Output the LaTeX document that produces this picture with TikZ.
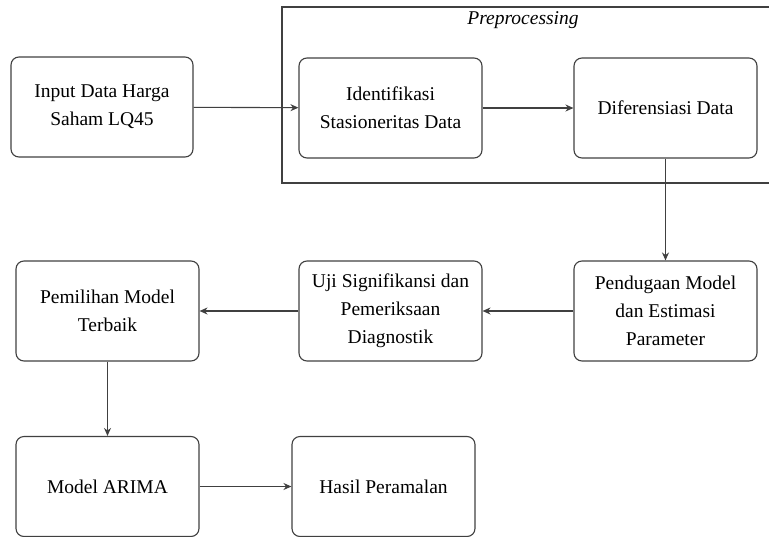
\documentclass[tikz,border=0pt]{standalone}
\usepackage{fontspec}
\setmainfont{Liberation Serif}
\usetikzlibrary{arrows.meta}

\begin{document}
\begin{tikzpicture}[x=1pt,y=-1pt,
  kotak/.style={draw=black!75,line width=1.1pt,rounded corners=8pt,
    minimum width=183pt,minimum height=100pt,align=center,
    font=\fontsize{19.5}{28}\selectfont},
  panah/.style={draw=black!75,line width=1.1pt,-{Stealth[length=8pt,width=7pt]}}]
  \useasboundingbox (0,0) rectangle (769,536);

  \draw [black!75,line width=1.1pt] (772,7) -- (282,7) -- (282,183) -- (772,183);
  \node (pre) at (523,20) {\fontsize{19.5}{24}\selectfont\itshape Preprocessing};

  \node [kotak,minimum width=182pt] (inp) at (102,107) {Input Data Harga\\Saham LQ45};
  \node [kotak] (iden) at (390.5,108) {Identifikasi\\Stasioneritas Data};
  \node [kotak] (dif) at (665.5,108) {Diferensiasi Data};

  \node [kotak] (pend) at (665.5,311) {Pendugaan Model\\dan Estimasi\\Parameter};
  \node [kotak] (uji) at (390.5,311) {Uji Signifikansi dan\\Pemeriksaan\\Diagnostik};
  \node [kotak] (pem) at (107.5,311) {Pemilihan Model\\Terbaik};

  \node [kotak] (arima) at (107.5,486.5) {Model ARIMA};
  \node [kotak] (hasil) at (383.5,486.5) {Hasil Peramalan};

  \draw [panah] (inp) -- (iden);
  \draw [panah] (iden) -- (dif);
  \draw [panah] (dif) -- (pend);
  \draw [panah] (pend) -- (uji);
  \draw [panah] (uji) -- (pem);
  \draw [panah] (pem) -- (arima);
  \draw [panah] (arima) -- (hasil);
\end{tikzpicture}
\end{document}
